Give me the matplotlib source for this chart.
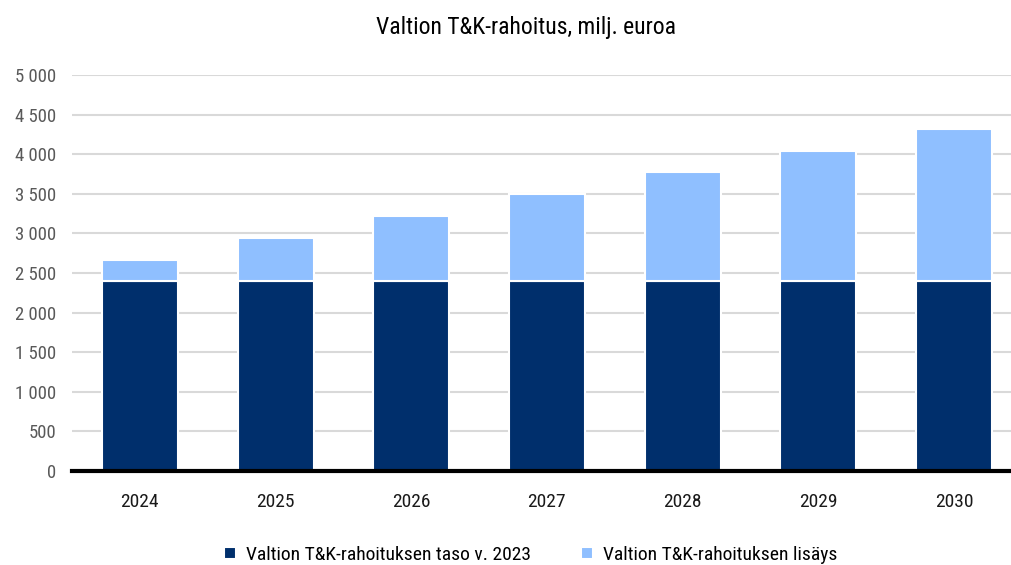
import matplotlib.pyplot as plt
from matplotlib import font_manager
import numpy as np

vuodet = ["2024", "2025", "2026", "2027", "2028", "2029", "2030"]
taso_2023 = [2400, 2400, 2400, 2400, 2400, 2400, 2400]
lisays = [265, 540, 815, 1095, 1370, 1645, 1920]

nimet = {f.name for f in font_manager.fontManager.ttflist}
kapeat = [n for n in ["Roboto Condensed", "Liberation Sans Narrow", "Roboto"] if n in nimet]
plt.rcParams['font.family'] = kapeat + ['DejaVu Sans']

fig = plt.figure(figsize=(10.11, 5.65), dpi=100)
ax = fig.add_axes([72 / 1011, 1 - 471 / 565, 1 - 72 / 1011, (471 - 75) / 565])

x = np.arange(len(vuodet))
tumma = "#002f6c"
vaalea = "#8fbfff"
ax.bar(x, taso_2023, width=0.56, color=tumma, edgecolor="white", linewidth=1.5,
       label="Valtion T&K-rahoituksen taso v. 2023", zorder=3)
ax.bar(x, lisays, bottom=taso_2023, width=0.56, color=vaalea, edgecolor="white",
       linewidth=1.5, label="Valtion T&K-rahoituksen lisäys", zorder=3)

ax.set_ylim(0, 5000)
ax.set_xlim(-0.5, (1011 - 140) / 135.67)
ax.set_yticks(range(0, 5001, 500))
ax.set_yticklabels([f"{v:,}".replace(",", " ") for v in range(0, 5001, 500)],
                   fontsize=13.5, color="#595959")
ax.set_xticks(x)
ax.set_xticklabels(vuodet, fontsize=14, color="#1a1a1a")
ax.tick_params(axis="both", length=0)
ax.tick_params(axis="y", pad=11)
ax.tick_params(axis="x", pad=16)

ax.grid(axis="y", color="#d9d9d9", linewidth=1.5, zorder=0)
for s in ["top", "right", "left"]:
    ax.spines[s].set_visible(False)
ax.spines["bottom"].set_color("black")
ax.spines["bottom"].set_linewidth(3)
ax.spines["bottom"].set_zorder(4)

fig.text(0.52, 0.951, "Valtion T&K-rahoitus, milj. euroa", ha="center", va="center",
         fontsize=17, color="black")

fig.legend(loc="center", bbox_to_anchor=(0.525, 0.018), ncol=2,
           frameon=False, fontsize=14, handlelength=0.6, handleheight=0.6,
           handletextpad=0.5, columnspacing=2.6)

fig.savefig("out.png", dpi=100)
